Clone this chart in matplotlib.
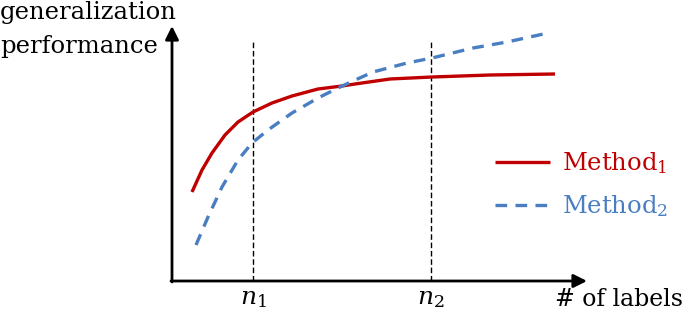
import numpy as np
import matplotlib.pyplot as plt

plt.rcParams['font.family'] = ['DejaVu Serif']
plt.rcParams['mathtext.fontset'] = 'dejavuserif'

# curve points (x = # of labels, y = performance, arbitrary units)
x_m1 = [192, 202, 212, 225, 238, 253, 272, 292, 318, 342, 355, 390, 432, 490, 555]
y_m1 = [123, 145, 162, 180, 193, 203, 212, 219, 226, 229, 231, 236, 238, 240, 241]

x_m2 = [196, 208, 222, 238, 252, 268, 292, 318, 338, 353, 373, 407, 432, 473, 507, 548]
y_m2 = [70, 98, 128, 155, 172, 185, 202, 217, 227, 234, 243, 252, 257, 267, 273, 282]

n_marks = [253, 431]
n_labels = ['$n_1$', '$n_2$']

red = '#C00000'
blue = '#4A7EC2'

fig = plt.figure(figsize=(6.85, 3.15), dpi=100)
ax = fig.add_axes([0, 0, 1, 1])
ax.set_xlim(0, 685)
ax.set_ylim(0, 315)
ax.axis('off')

# axes with arrows
x0, y0 = 172, 34
ax.annotate('', xy=(587, y0), xytext=(x0 - 1, y0),
            arrowprops=dict(arrowstyle='-|>', lw=2, color='black', mutation_scale=20,
                            shrinkA=0, shrinkB=0))
ax.annotate('', xy=(x0, 289), xytext=(x0, y0 - 1),
            arrowprops=dict(arrowstyle='-|>', lw=2, color='black', mutation_scale=20,
                            shrinkA=0, shrinkB=0))

# vertical dashed markers
for xm, lab in zip(n_marks, n_labels):
    ax.plot([xm, xm], [y0, 273], color='black', lw=1, ls=(0, (4, 2)))
    ax.text(xm, 17, lab, ha='center', va='center', fontsize=18)

l1, = ax.plot(x_m1, y_m1, color=red, lw=2.4, solid_capstyle='butt', solid_joinstyle='round')
l2, = ax.plot(x_m2, y_m2, color=blue, lw=2.4, ls=(0, (3.5, 2.5)))

ax.legend([l1, l2], ['Method$_1$', 'Method$_2$'], loc='center left',
          bbox_to_anchor=(473 / 685, (315 - 185) / 315), frameon=False,
          handlelength=2.25, handletextpad=0.5, labelspacing=0.7,
          fontsize=17.5, labelcolor='linecolor')

ax.text(0, 302, 'generalization', ha='left', va='center', fontsize=17.5)
ax.text(0, 268, 'performance', ha='left', va='center', fontsize=17.5)
ax.text(683, 15, '# of labels', ha='right', va='center', fontsize=17)

fig.savefig('out.png', dpi=100)
